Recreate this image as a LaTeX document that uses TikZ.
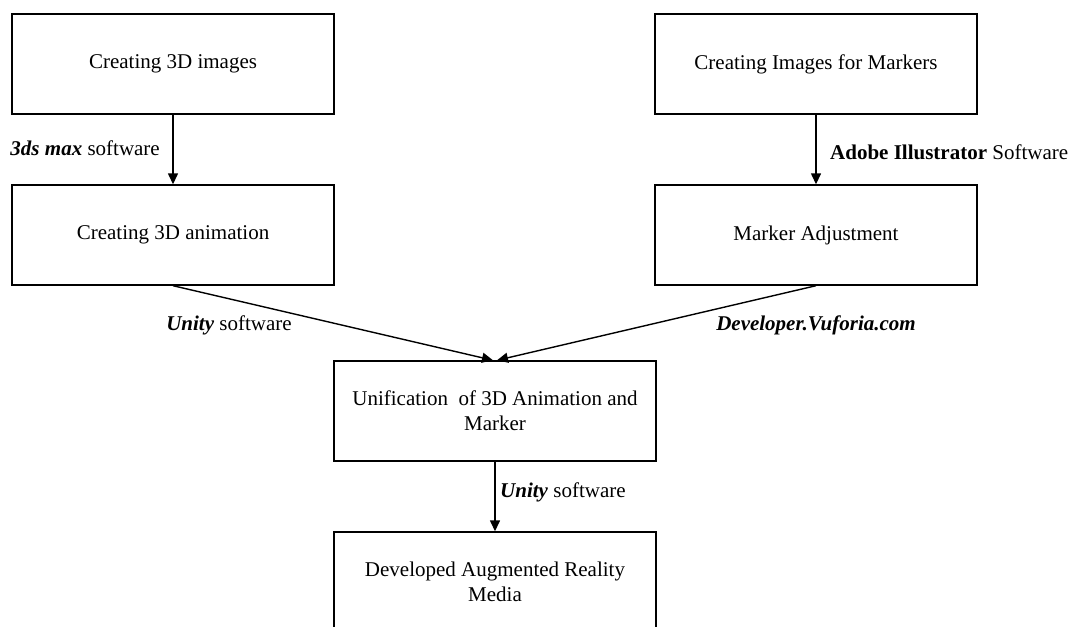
\documentclass[tikz,border=0pt]{standalone}
\usepackage{fontspec}
\setmainfont{Liberation Serif}
\usetikzlibrary{arrows.meta,positioning,calc}
\tikzset{
  stepbox/.style={rectangle, draw, line width=1.4pt, minimum width=322pt, minimum height=100pt, inner sep=0pt, align=center, font=\fontsize{21}{25}\selectfont},
  flow/.style={line width=1.4pt, -{Triangle[length=11pt,width=10pt]}},
  tool/.style={inner sep=0pt, font=\fontsize{21}{25}\selectfont},
}
\begin{document}
\begin{tikzpicture}[x=1pt,y=-1pt]

  % page frame
  \clip (0,0) rectangle (1070,626);
  \fill[white] (0,0) rectangle (1070,626);

  %% ==================
  %% left branch
  %% ==================
  \node[stepbox] (img3d) at (173,64) {Creating 3D images};
  \node[stepbox] (anim3d) at (173,235) {Creating 3D animation};

  %% ==================
  %% right branch
  %% ==================
  \node[stepbox] (imgmark) at (816,64) {Creating Images for Markers};
  \node[stepbox] (adjmark) at (816,235) {Marker Adjustment};

  %% ==================
  %% merge
  %% ==================
  \node[stepbox] (unify) at (495,411) {Unification\ \ of 3D Animation and\\Marker};
  \node[stepbox] (media) at (495,582) {Developed Augmented Reality\\Media};

  % Connectors
  \draw[flow] (img3d) -- (anim3d);
  \draw[flow] (imgmark) -- (adjmark);
  \draw[flow] (anim3d.south) -- ([xshift=-2pt]unify.north);
  \draw[flow] (adjmark.south) -- ([xshift=2pt]unify.north);
  \draw[flow] (unify) -- (media);

  % Software labels
  \node[tool, anchor=east] (lbl3ds) at (160,148) {\textbf{\textit{3ds max}} software};
  \node[tool, anchor=west] (lblai) at (830,152) {\textbf{Adobe Illustrator} Software};
  \node[tool] (lblunity) at (229,325) {\textbf{\textit{Unity}} software};
  \node[tool] (lblvuf) at (816,325) {\textbf{\textit{Developer.Vuforia.com}}};
  \node[tool, anchor=west] (lblunityb) at (500,492) {\textbf{\textit{Unity}} software};

\end{tikzpicture}
\end{document}
